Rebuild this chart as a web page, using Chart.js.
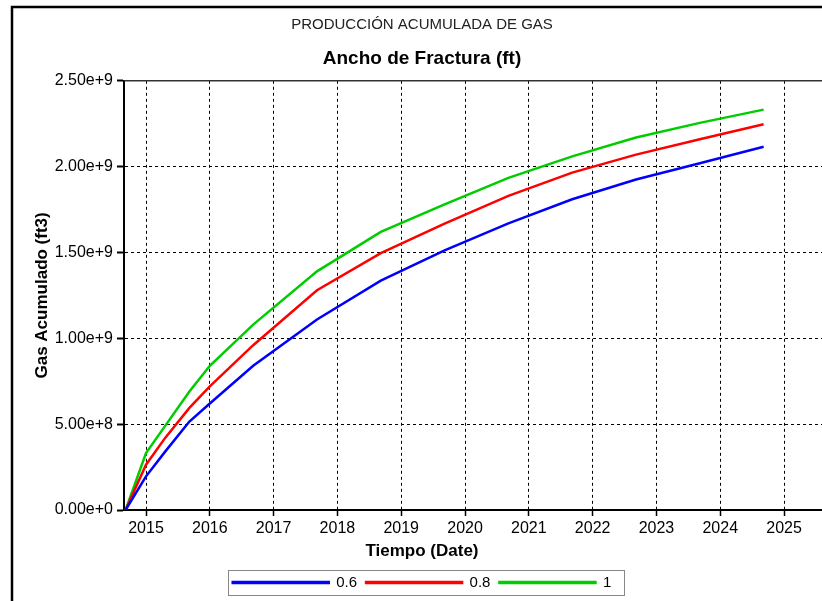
<!DOCTYPE html>
<html>
<head>
<meta charset="utf-8">
<script src="https://cdn.jsdelivr.net/npm/chart.js@4.4.0/dist/chart.umd.min.js"></script>
<style>
  html, body { margin: 0; padding: 0; background: #fff; }
</style>
</head>
<body>
<canvas id="grafico" width="822" height="601"></canvas>
<script>
// fechas de simulación en años decimales
const tiempo = [2014.68, 2015.0, 2015.3, 2015.68, 2016.0, 2016.68, 2017.68, 2018.68, 2019.68, 2020.68, 2021.68, 2022.68, 2023.68, 2024.68];
// gas acumulado (ft3) por ancho de fractura
const gas06 = [0, 0.196e9, 0.34e9, 0.515e9, 0.62e9, 0.84e9, 1.11e9, 1.336e9, 1.512e9, 1.67e9, 1.81e9, 1.925e9, 2.02e9, 2.116e9];
const gas08 = [0, 0.264e9, 0.42e9, 0.595e9, 0.72e9, 0.96e9, 1.28e9, 1.496e9, 1.668e9, 1.83e9, 1.965e9, 2.07e9, 2.16e9, 2.247e9];
const gas10 = [0, 0.332e9, 0.49e9, 0.69e9, 0.84e9, 1.08e9, 1.39e9, 1.62e9, 1.78e9, 1.935e9, 2.06e9, 2.17e9, 2.255e9, 2.332e9];
const anios = [2015, 2016, 2017, 2018, 2019, 2020, 2021, 2022, 2023, 2024, 2025];
const etiquetas = ['0.6', '0.8', '1'];
const colores = ['#0000ff', '#ff0000', '#00cc00'];

const FUENTE = "'Liberation Sans', Arial, sans-serif";
Chart.defaults.font.family = FUENTE;
Chart.defaults.color = '#000';

function serie(valores) {
    return tiempo.map((t, i) => ({x: t, y: valores[i]}));
}

// marco exterior, borde superior del área, título del eje x y recuadro de la leyenda
const marco = {
    id: 'marco',
    afterDraw(chart) {
        const ctx = chart.ctx;
        const a = chart.chartArea;
        ctx.save();
        ctx.strokeStyle = '#333';
        ctx.lineWidth = 1.5;
        ctx.beginPath();
        ctx.moveTo(a.left, a.top);
        ctx.lineTo(a.right, a.top);
        ctx.stroke();

        ctx.strokeStyle = '#000';
        ctx.lineWidth = 2.5;
        ctx.beginPath();
        ctx.moveTo(12, 601);
        ctx.lineTo(12, 7);
        ctx.lineTo(822, 7);
        ctx.stroke();

        ctx.font = 'bold 17px ' + FUENTE;
        ctx.textAlign = 'center';
        ctx.textBaseline = 'middle';
        ctx.fillStyle = '#000';
        ctx.fillText('Tiempo (Date)', 422, 551);

        const hb = chart.legend.legendHitBoxes;
        if (hb && hb.length) {
            const x0 = Math.min(...hb.map(h => h.left)) - 5;
            const x1 = Math.max(...hb.map(h => h.left + h.width)) + 12;
            const y0 = Math.min(...hb.map(h => h.top)) - 5;
            const y1 = Math.max(...hb.map(h => h.top + h.height)) + 5;
            ctx.strokeStyle = '#888';
            ctx.lineWidth = 1;
            ctx.strokeRect(Math.round(x0) + 0.5, Math.round(y0) + 0.5, Math.round(x1 - x0), Math.round(y1 - y0));
        }
        ctx.restore();
    }
};

const ctx = document.getElementById('grafico');
new Chart(ctx, {
    type: 'line',
    data: {
        datasets: [gas06, gas08, gas10].map((v, i) => ({
            label: etiquetas[i],
            data: serie(v),
            borderColor: colores[i],
            backgroundColor: colores[i],
            borderWidth: 2.5,
            pointRadius: 0,
            tension: 0,
            fill: false
        }))
    },
    options: {
        responsive: false,
        animation: false,
        layout: {padding: {left: 22, right: 0, top: 0, bottom: 1}},
        plugins: {
            title: {
                display: true,
                text: 'PRODUCCIÓN ACUMULADA DE GAS',
                font: {size: 15, weight: 'normal'},
                color: '#222',
                padding: {top: 16, bottom: 6}
            },
            subtitle: {
                display: true,
                text: 'Ancho de Fractura (ft)',
                font: {size: 19, weight: 'bold'},
                color: '#000',
                padding: {top: 7, bottom: 11}
            },
            legend: {
                position: 'bottom',
                labels: {boxWidth: 96, boxHeight: 1, padding: 9, font: {size: 15}, color: '#000'}
            },
            tooltip: {enabled: false}
        },
        scales: {
            x: {
                type: 'linear',
                min: 2014.655,
                max: 2025.595,
                afterBuildTicks: s => { s.ticks = anios.map(v => ({value: v})); },
                afterFit: s => { s.height = 56; },
                ticks: {callback: v => String(v), font: {size: 16}, padding: 3, maxRotation: 0, autoSkip: false},
                grid: {color: '#000', lineWidth: 1, tickLength: 6, tickColor: '#000', tickWidth: 1.5},
                border: {display: true, color: '#000', width: 2, dash: [3, 3]}
            },
            y: {
                min: 0,
                max: 2.5e9,
                afterFit: s => { s.width = 102; },
                ticks: {stepSize: 0.5e9, callback: v => v.toExponential(2), font: {size: 16}, padding: 4},
                grid: {color: '#000', lineWidth: 1, tickLength: 7, tickColor: '#000', tickWidth: 2},
                border: {display: true, color: '#000', width: 2, dash: [3, 3]},
                title: {
                    display: true,
                    text: 'Gas Acumulado (ft3)',
                    font: {size: 17, weight: 'bold'},
                    padding: {top: 10, bottom: 0}
                }
            }
        }
    },
    plugins: [marco]
});
</script>
</body>
</html>
